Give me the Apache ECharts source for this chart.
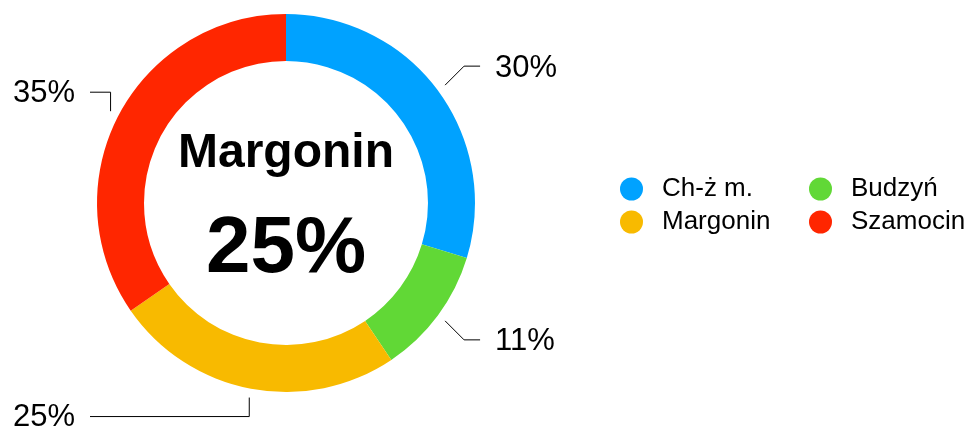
<!DOCTYPE html>
<html><head><meta charset="utf-8">
<script src="https://cdn.jsdelivr.net/npm/echarts@6/dist/echarts.min.js"></script>
<style>html,body{margin:0;padding:0;background:#fff}#c{width:971px;height:432px}</style>
</head><body><div id="c"></div>
<script>
const categories = ['Ch-ż m.', 'Budzyń', 'Margonin', 'Szamocin'];
const values = [30, 11, 25, 35];
const colors = ['#00A2FF', '#61D836', '#F8BA00', '#FF2600'];
const highlight = 'Margonin';
const legendCol1 = ['Ch-ż m.', 'Margonin'];
const legendCol2 = ['Budzyń', 'Szamocin'];

const FONT = '"Liberation Sans", Arial, Helvetica, sans-serif';
const CX = 286, CY = 203, R_IN = 142, R_OUT = 189;
const total = values.reduce((a, b) => a + b, 0);
const hiIdx = categories.indexOf(highlight);

function midDir(i) {
  let cum = 0;
  for (let k = 0; k < i; k++) cum += values[k];
  const a = (cum + values[i] / 2) / total * Math.PI * 2;
  return [Math.sin(a), -Math.cos(a)];
}

const chart = echarts.init(document.getElementById('c'), null, {renderer: 'canvas'});
const legendBase = {
  orient: 'vertical', padding: 0, itemGap: 7, itemWidth: 23, itemHeight: 23,
  icon: 'circle', top: 176,
  textStyle: {fontFamily: FONT, fontSize: 26, color: '#000', lineHeight: 23, padding: [0, 0, 0, 14]}
};
chart.setOption({
  animation: false,
  color: colors,
  legend: [
    Object.assign({}, legendBase, {left: 620, data: legendCol1}),
    Object.assign({}, legendBase, {left: 809, data: legendCol2})
  ],
  graphic: [
    {type: 'text', x: CX, y: 153.5, style: {text: categories[hiIdx], font: 'bold 48px ' + FONT, align: 'center', verticalAlign: 'middle', fill: '#000'}},
    {type: 'text', x: CX, y: 250, style: {text: values[hiIdx] + '%', font: 'bold 80px ' + FONT, align: 'center', verticalAlign: 'middle', fill: '#000'}}
  ],
  series: [{
    type: 'pie',
    center: [CX, CY],
    radius: [R_IN, R_OUT],
    startAngle: 90,
    clockwise: true,
    avoidLabelOverlap: false,
    emphasis: {disabled: true},
    label: {show: true, position: 'outside', formatter: '{c}%', fontFamily: FONT, fontSize: 31, color: '#000'},
    labelLine: {show: true, lineStyle: {color: '#000', width: 1}},
    labelLayout: function (params) {
      const d = midDir(params.dataIndex);
      const p0 = [CX + (R_OUT + 9) * d[0], CY + (R_OUT + 9) * d[1]];
      const sy = d[1] >= 0 ? 1 : -1;
      if (d[0] > 0.3) {
        const p1 = [p0[0] + 19, p0[1] + 19 * sy];
        const p2 = [p1[0] + 16, p1[1]];
        return {x: p2[0] + 15, y: p2[1] + 2, align: 'left', verticalAlign: 'middle', labelLinePoints: [p0, p1, p2]};
      } else {
        const p1 = [p0[0], p0[1] + 19 * sy];
        const p2 = [90, p1[1]];
        return {x: 75, y: p1[1] + 1, align: 'right', verticalAlign: 'middle', labelLinePoints: [p0, p1, p2]};
      }
    },
    data: categories.map((n, i) => ({name: n, value: values[i]}))
  }]
});
</script></body></html>
